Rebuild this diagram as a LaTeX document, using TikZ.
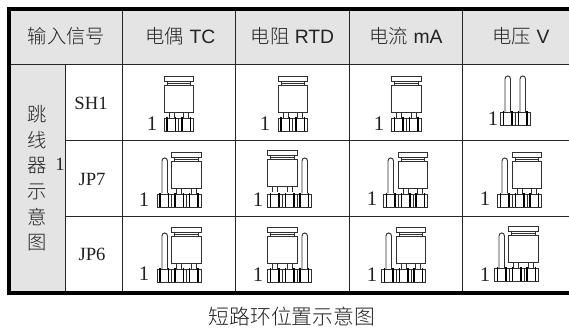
\documentclass[tikz,border=0pt]{standalone}
\usepackage{fontspec}
\setmainfont{Liberation Sans}
\newfontfamily\cjk{Noto Sans CJK SC Light}
\newfontfamily\serifl{Liberation Serif}
\definecolor{cellgray}{HTML}{E4E4E4}
\definecolor{pinline}{HTML}{303030}
\definecolor{txt}{HTML}{222222}
\tikzset{
  gridline/.style={line width=0.75pt,draw=black!85},
  frameline/.style={line width=3pt,draw=black},
  part/.style={line width=0.7pt,draw=pinline},
  headtext/.style={inner sep=0pt,text=txt,font=\fontsize{14.5pt}{15pt}\selectfont},
  sidetext/.style={inner sep=0pt,text=txt,font=\cjk\fontsize{14.5pt}{15pt}\selectfont},
  serlabel/.style={inner sep=0pt,text=txt,font=\serifl\fontsize{14pt}{15pt}\selectfont},
  onelabel/.style={inner sep=0pt,text=txt,font=\serifl\fontsize{15.5pt}{15pt}\selectfont},
}
% cap at x, top y
\newcommand{\jumpcap}[2]{%
  \draw[part] (#1,#2) rectangle ++(29.5,5);
  \draw[part] (#1+3,#2+5) -- (#1+3,#2+9.5) (#1+26.5,#2+5) -- (#1+26.5,#2+9.5) (#1+3,#2+7) -- (#1+26.5,#2+7);
  \draw[part] (#1,#2+9.5) rectangle ++(29.5,27);
  \draw[part] (#1+5,#2+36.5) -- (#1+5,#2+42) (#1+10,#2+36.5) -- (#1+10,#2+42)
              (#1+19.5,#2+36.5) -- (#1+19.5,#2+42) (#1+24.5,#2+36.5) -- (#1+24.5,#2+42);
}
% base: x, top y, number of blocks
\newcommand{\jumpbase}[3]{%
  \foreach \k in {1,...,#3}{
    \pgfmathsetmacro{\xb}{#1+(\k-1)*14.8}
    \draw[part] (\xb,#2) rectangle ++(14.8,13);
    \draw[line width=1.2pt,draw=black] (\xb+3,#2-0.5) -- ++(0,14) (\xb+11.5,#2-0.5) -- ++(0,14);
  }
}
% pin: x, top y, bottom y
\newcommand{\jumppin}[3]{%
  \draw[part] (#1,#3) -- (#1,#2+3) .. controls (#1,#2-1) and (#1+5.5,#2-1) .. (#1+5.5,#2+3) -- (#1+5.5,#3);
}
\begin{document}
\begin{tikzpicture}[x=0.75pt,y=-0.75pt]
\useasboundingbox (0,0) rectangle (569,331);
\fill[white] (0,0) rectangle (569,331);
% shaded cells
\fill[cellgray] (9,9) rectangle (569,65);
\fill[cellgray] (9,65) rectangle (65,293);
% grid
\draw[gridline] (11,65) -- (569,65);
\draw[gridline] (65,141) -- (569,141);
\draw[gridline] (65,217) -- (569,217);
\foreach \cx in {122.5,235.5,349.5,462.5}{\draw[gridline] (\cx,9) -- (\cx,293);}
\draw[gridline] (65,65) -- (65,293);
% frame
\draw[frameline] (569,9) -- (9,9) -- (9,293) -- (569,293);
% header
\node[headtext] (h0) at (66.5,36) {{\cjk 输入信号}};
\node[headtext] (h1) at (180.5,36) {{\cjk 电偶} TC};
\node[headtext] (h2) at (292.5,36) {{\cjk 电阻} RTD};
\node[headtext] (h3) at (406,36) {{\cjk 电流} mA};
\node[headtext] (h4) at (521,36) {{\cjk 电压} V};
% side column
\node[sidetext] (s1) at (37,114) {跳};
\node[sidetext] (s2) at (37,140) {线};
\node[sidetext] (s3) at (37,166) {器};
\node[sidetext] (s4) at (37,192) {示};
\node[sidetext] (s5) at (37,217) {意};
\node[sidetext] (s6) at (37,243) {图};
\node[serlabel] (s7) at (60,164) {1};
\node[serlabel] (r1) at (91,103) {SH1};
\node[serlabel] (r2) at (92,179) {JP7};
\node[serlabel] (r3) at (92,254) {JP6};
% SH1
\jumpcap{164}{76}\jumpbase{164}{118}{2}
\node[onelabel] (a1) at (152,124) {1};
\jumpcap{278}{76}\jumpbase{278}{118}{2}
\node[onelabel] (a2) at (265,124) {1};
\jumpcap{391.5}{76}\jumpbase{391.5}{118}{2}
\node[onelabel] (a3) at (379,124) {1};
\jumppin{505}{76}{112}\jumppin{520}{76}{112}\jumpbase{500.5}{112}{2}
\node[onelabel] (a4) at (493,119) {1};
% JP7
\jumpcap{171.5}{152}\jumppin{162}{158}{193.5}\jumpbase{157}{194}{3}
\node[onelabel] (b1) at (144,200) {1};
\jumpcap{267.5}{150}\jumppin{302}{158}{193.5}\jumpbase{267.5}{194}{3}
\node[onelabel] (b2) at (258,200) {1};
\jumpcap{398}{152}\jumppin{388}{158}{193.5}\jumpbase{383.5}{194}{3}
\node[onelabel] (b3) at (372,199) {1};
\jumpcap{512}{152}\jumppin{502}{158}{193.5}\jumpbase{497.5}{194}{3}
\node[onelabel] (b4) at (485,199) {1};
% JP6
\jumpcap{171.5}{227}\jumppin{162}{233}{269}\jumpbase{157}{269}{3}
\node[onelabel] (c1) at (144,274) {1};
\jumpcap{267.5}{227}\jumppin{302}{233}{269}\jumpbase{267.5}{269}{3}
\node[onelabel] (c2) at (258,275) {1};
\jumpcap{396}{227}\jumppin{386}{233}{269}\jumpbase{381.5}{269}{3}
\node[onelabel] (c3) at (372,275) {1};
\jumpcap{508.5}{226}\jumppin{499}{233}{268}\jumpbase{494.5}{268}{3}
\node[onelabel] (c4) at (485,275) {1};
% caption
\node[inner sep=0pt,text=txt,font=\cjk\fontsize{15.6pt}{17pt}\selectfont] (cap) at (292,317) {短路环位置示意图};
\end{tikzpicture}
\end{document}
